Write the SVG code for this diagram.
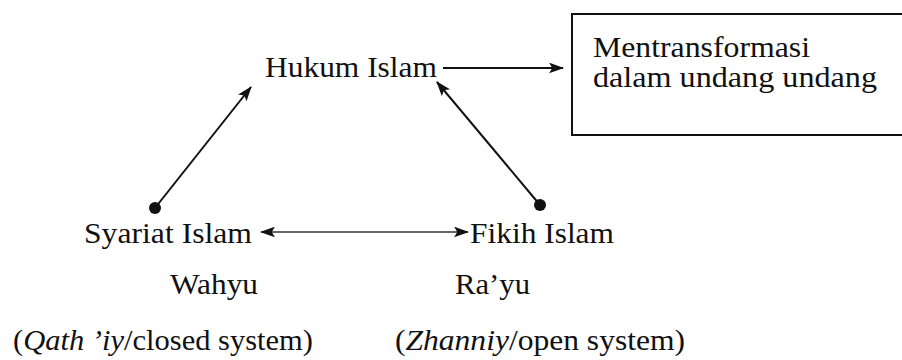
<svg xmlns="http://www.w3.org/2000/svg" width="902" height="360" viewBox="0 0 902 360">
<style>
text{font-family:'Liberation Serif','DejaVu Serif','Times New Roman',serif;font-size:29px;fill:#111}
.i{font-style:italic}
.ln{stroke:#111;stroke-width:2;fill:none}
.box{stroke:#111;stroke-width:2;fill:#fff}
</style>
<defs>
<marker id="ah" viewBox="0 0 14 10" refX="13" refY="5" markerWidth="15" markerHeight="11" markerUnits="userSpaceOnUse" orient="auto-start-reverse">
<path d="M0,0 L14,5 L0,10 L3,5 z" fill="#111"/>
</marker>
</defs>
<g id="connectors">
<line class="ln" x1="443" y1="68" x2="563" y2="68" marker-end="url(#ah)"/>
<line class="ln" x1="155" y1="208" x2="251" y2="87" marker-end="url(#ah)"/>
<line class="ln" x1="540" y1="205" x2="437" y2="82" marker-end="url(#ah)"/>
<line class="ln" style="stroke-width:1.4;stroke:#333" x1="261" y1="232" x2="468" y2="232" marker-start="url(#ah)" marker-end="url(#ah)"/>
<circle cx="155" cy="208" r="6" fill="#111"/>
<circle cx="540" cy="205" r="6" fill="#111"/>
</g>
<g id="hukum">
<text x="265" y="77" textLength="172" lengthAdjust="spacingAndGlyphs">Hukum Islam</text>
</g>
<g id="box">
<rect class="box" x="572" y="14" width="340" height="121"/>
<text x="593" y="57" textLength="217" lengthAdjust="spacingAndGlyphs">Mentransformasi</text>
<text x="593" y="87" textLength="284" lengthAdjust="spacingAndGlyphs">dalam undang undang</text>
</g>
<g id="syariat">
<text x="84" y="243" textLength="168" lengthAdjust="spacingAndGlyphs">Syariat Islam</text>
<text x="170" y="294" textLength="88" lengthAdjust="spacingAndGlyphs">Wahyu</text>
<text x="13" y="350" textLength="300" lengthAdjust="spacingAndGlyphs">(<tspan class="i">Qath ’iy</tspan>/closed system)</text>
</g>
<g id="fikih">
<text x="470" y="243" textLength="144" lengthAdjust="spacingAndGlyphs">Fikih Islam</text>
<text x="455" y="294" textLength="75" lengthAdjust="spacingAndGlyphs">Ra’yu</text>
<text x="395" y="350" textLength="290" lengthAdjust="spacingAndGlyphs">(<tspan class="i">Zhanniy</tspan>/open system)</text>
</g>
</svg>
